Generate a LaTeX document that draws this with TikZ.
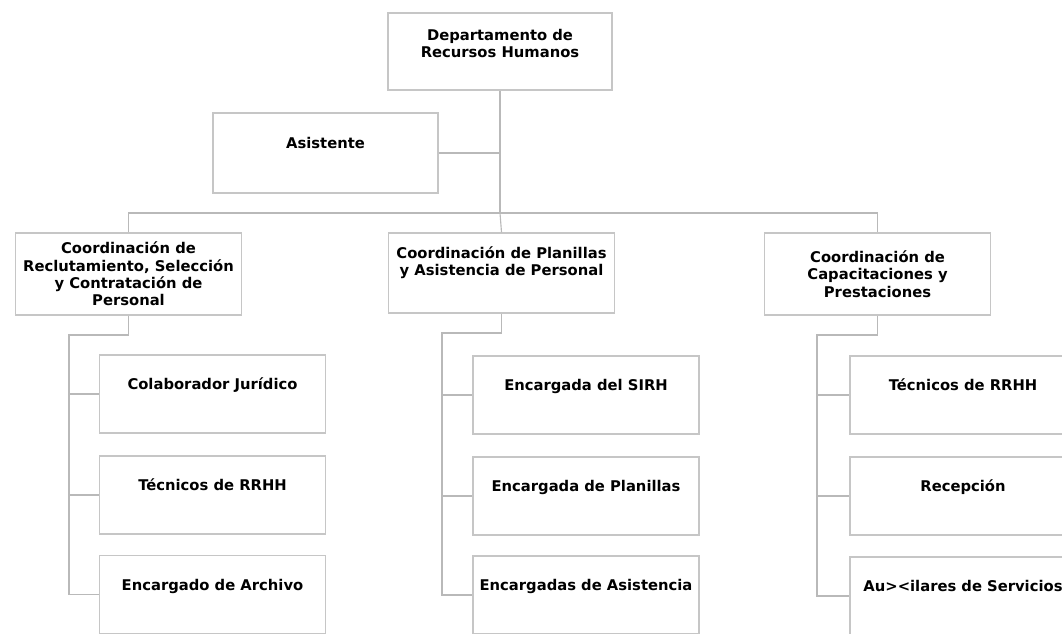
\documentclass[tikz,border=0pt]{standalone}
\usepackage{fontspec}
\setmainfont{DejaVu Sans}
\usepackage{tikz}
\usetikzlibrary{shapes,arrows}
\tikzstyle{block} = [rectangle, draw=gray!45, line width=0.9pt, align=center, inner sep=0pt, font=\bfseries\fontsize{10.5}{12.4}\selectfont, text=black]
\tikzstyle{coord} = [block, minimum width=5.65cm, minimum height=2.05cm]
\tikzstyle{staff} = [block, minimum width=5.65cm, minimum height=1.95cm, text depth=0.5cm]
\tikzstyle{line} = [draw, gray!55, line width=0.8pt]

\begin{document}
\begin{tikzpicture}[x=0.025cm, y=-0.025cm]
\useasboundingbox (0, 0) rectangle (1062, 633);

% head and assistant
\node [block, minimum width=5.6cm, minimum height=1.925cm, text depth=0.4cm] at (500, 51.5) (dept) {Departamento de\\Recursos Humanos};
\node [block, minimum width=5.625cm, minimum height=2cm, text depth=0.5cm] at (325.5, 153) (asis) {Asistente};
\coordinate (bus) at (500, 213);
\path [line] (dept.south) to (bus);
\path [line] (asis.east) to (asis.east -| dept.south);

% coordinations
\node [coord] at (128.5, 274) (coordRS) {Coordinación de\\Reclutamiento, Selección\\y Contratación de\\Personal};
\node [coord, minimum height=2cm, text depth=0.6cm] at (501.5, 273) (coordPA) {Coordinación de Planillas\\y Asistencia de Personal};
\node [coord] at (877.5, 274) (coordCP) {Coordinación de\\Capacitaciones y\\Prestaciones};
\path [line] (coordRS.north) |- (bus) -| (coordCP.north);
\path [line] (bus) to (coordPA.north);

% staff under reclutamiento
\node [staff] at (212.5, 394) (rs1) {Colaborador Jurídico};
\node [staff] at (212.5, 495) (rs2) {Técnicos de RRHH};
\node [staff] at (212.5, 594.5) (rs3) {Encargado de Archivo};
\coordinate (rsJ) at (69, 335);
\path [line] (coordRS.south) |- (rsJ) |- (rs3.west);
\path [line] (rsJ |- rs1.west) to (rs1.west);
\path [line] (rsJ |- rs2.west) to (rs2.west);

% staff under planillas
\node [staff] at (586, 395) (pa1) {Encargada del SIRH};
\node [staff] at (586, 496) (pa2) {Encargada de Planillas};
\node [staff] at (586, 595) (pa3) {Encargadas de Asistencia};
\coordinate (paJ) at (442, 333);
\path [line] (coordPA.south) |- (paJ) |- (pa3.west);
\path [line] (paJ |- pa1.west) to (pa1.west);
\path [line] (paJ |- pa2.west) to (pa2.west);

% staff under capacitaciones
\node [staff] at (963, 395) (cp1) {Técnicos de RRHH};
\node [staff] at (963, 496) (cp2) {Recepción};
\node [staff] at (963, 596) (cp3) {Au><ilares de Servicios};
\coordinate (cpJ) at (817, 335);
\path [line] (coordCP.south) |- (cpJ) |- (cp3.west);
\path [line] (cpJ |- cp1.west) to (cp1.west);
\path [line] (cpJ |- cp2.west) to (cp2.west);

\end{tikzpicture}
\end{document}
